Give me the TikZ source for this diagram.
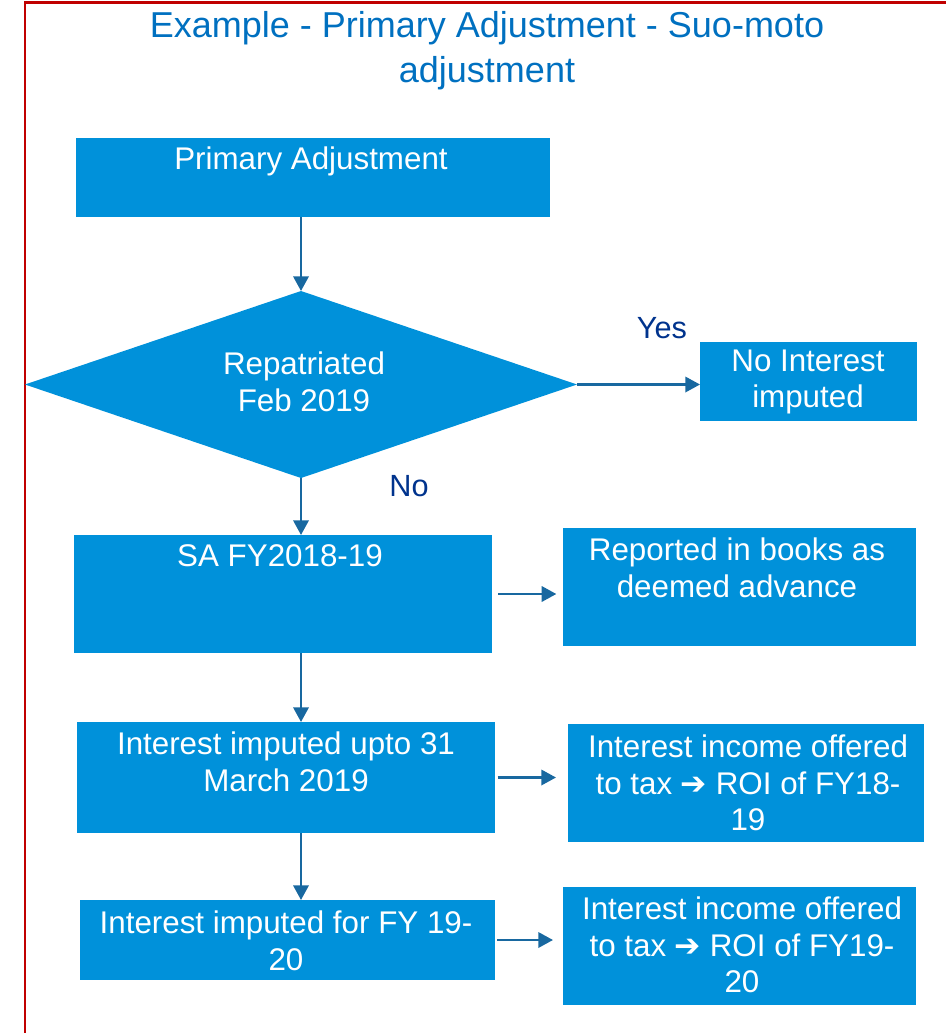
\documentclass[tikz,border=0pt]{standalone}
\usepackage{fontspec}
\setmainfont{Liberation Sans}
\newfontfamily\symfont{DejaVu Sans}
\usetikzlibrary{arrows.meta,shapes.geometric,fit}
\definecolor{boxblue}{RGB}{0,145,218}
\definecolor{titleblue}{RGB}{0,112,192}
\definecolor{lblblue}{RGB}{0,51,141}
\definecolor{arrblue}{RGB}{24,104,160}
\definecolor{framered}{RGB}{192,0,0}
\newcommand{\arrowsym}{{\symfont\bfseries\char"2794}}
\begin{document}
\begin{tikzpicture}[x=0.75pt,y=-0.75pt,
  box/.style={fill=boxblue, draw=none, inner sep=0pt, outer sep=0pt},
  txt/.style={text=white, font=\fontsize{23.5}{27.5}\selectfont, align=center, inner sep=0pt},
  lbl/.style={text=lblblue, font=\fontsize{23}{27.5}\selectfont, inner sep=0pt},
  arr/.style={draw=arrblue, line width=1.8pt, -{Triangle[length=11pt,width=11.5pt]}},
]
\useasboundingbox (0,0) rectangle (946,1033);
\draw[framered, line width=2pt] (946,2.5) -- (25,2.5) -- (25,1033);

\node[text=titleblue, font=\fontsize{27}{34}\selectfont, align=center, inner sep=0pt] (title) at (487,51) {Example - Primary Adjustment - Suo-moto\\adjustment};

\node[box, fit={(76,138) (550,217)}] (b1) {};
\node[txt] (t1) at (311,161) {Primary Adjustment};

\node[box, diamond, minimum width=414pt, minimum height=140.25pt] (d) at (301,384.5) {};
\node[txt] (td) at (304,382) {Repatriated\\Feb 2019};

\node[box, fit={(700,342) (917,421)}] (ni) {};
\node[txt] (tni) at (808,382) {No Interest\\imputed};

\node[lbl] (yes) at (662,328) {Yes};
\node[lbl] (no) at (409,486) {No};

\node[box, fit={(74,535) (492,653)}] (sa) {};
\node[txt] (tsa) at (280,556) {SA FY2018-19};

\node[box, fit={(563,528) (916,646)}] (rep) {};
\node[txt] (trep) at (737,568) {Reported in books as\\deemed advance};

\node[box, fit={(77,722) (495,833)}] (b3) {};
\node[txt] (t3) at (286,762) {Interest imputed upto 31\\March 2019};

\node[box, fit={(568,724) (924,842)}] (inc1) {};
\node[txt] (ti1) at (748,783) {Interest income offered\\to tax \arrowsym{} ROI of FY18-\\19};

\node[box, fit={(80,900) (495,980)}] (b4) {};
\node[txt] (t4) at (286,941) {Interest imputed for FY 19-\\20};

\node[box, fit={(563,887) (916,1005)}] (inc2) {};
\node[txt] (ti2) at (742,945) {Interest income offered\\to tax \arrowsym{} ROI of FY19-\\20};

\draw[arr] (b1.south -| d.north) -- (d.north);
\draw[arr] (d.east) -- (ni.west |- d.east);
\draw[arr] (d.south) -- (d.south |- sa.north);
\draw[arr, shorten <=4.5pt, shorten >=5pt] (sa.east) -- (sa.east -| rep.west);
\draw[arr] (sa.south -| d.south) -- (b3.north -| d.south);
\draw[arr, shorten <=2pt, shorten >=9pt] (b3.east) -- (b3.east -| inc1.west);
\draw[arr] (b3.south -| d.south) -- (b4.north -| d.south);
\draw[arr, shorten <=1.5pt, shorten >=7.5pt] (b4.east) -- (b4.east -| inc2.west);
\end{tikzpicture}
\end{document}
